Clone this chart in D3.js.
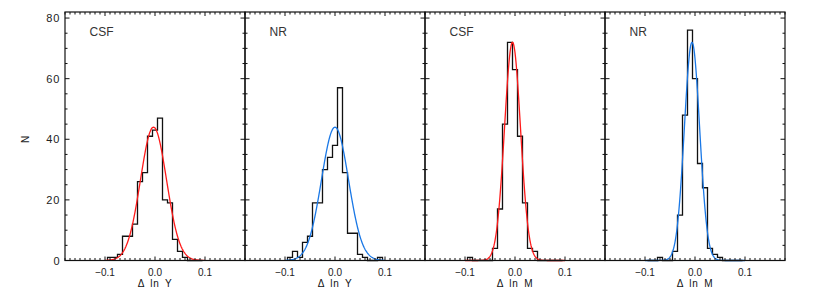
<!DOCTYPE html>
<html>
<head>
<meta charset="utf-8">
<script src="https://cdn.jsdelivr.net/npm/d3@7"></script>
<style>
  html, body { margin: 0; padding: 0; background: #fff; overflow: hidden; }
  svg { display: block; font-family: "Liberation Sans", Arial, Helvetica, sans-serif; }
</style>
</head>
<body>
<svg id="chart" width="817" height="297"></svg>
<script>
// ---- data ----
const binCenters = [-0.09, -0.08, -0.07, -0.06, -0.05, -0.04, -0.03, -0.02, -0.01, 0.00,
                     0.01,  0.02,  0.03,  0.04,  0.05,  0.06,  0.07,  0.08,  0.09];
const countsCsfY = [1, 1, 2, 8, 8, 12, 26, 29, 41, 43, 47, 20, 19, 7, 3, 1, 0, 0, 0];
const countsNrY  = [1, 3, 1, 6, 8, 19, 19, 30, 34, 38, 57, 29, 9, 9, 2, 1, 0, 0, 1];
const countsCsfM = [1, 0, 0, 0, 0, 4, 17, 45, 72, 63, 41, 19, 4, 3, 0, 0, 0, 0, 0];
const countsNrM  = [0, 0, 1, 0, 0, 3, 15, 48, 76, 60, 32, 24, 4, 2, 1, 0, 0, 0, 0];
const panelLabels = ["CSF", "NR", "CSF", "NR"];
const xTitles = ["\u0394 ln Y", "\u0394 ln Y", "\u0394 ln M", "\u0394 ln M"];
// Gaussian fit parameters: amplitude, mean, sigma
const fitAmp   = [44, 44, 72, 72];
const fitMean  = [-0.003, 0.000, -0.005, -0.006];
const fitSigma = [0.026, 0.027, 0.016, 0.0153];
const fitColors = ["#ff1a1a", "#1a78e6", "#ff1a1a", "#1a78e6"];
const xTickValues = [-0.1, 0.0, 0.1];
const xTickLabels = ["\u22120.1", "0.0", "0.1"];
const yTickValues = [0, 20, 40, 60, 80];
const yTickLabels = ["0", "20", "40", "60", "80"];
const yAxisTitle = "N";

const allCounts = [countsCsfY, countsNrY, countsCsfM, countsNrM];

// ---- layout ----
const svg = d3.select("#chart");
const left0 = 65, panelW = 180, plotTop = 12, plotBottom = 260.5;
const binW = 0.01;
const x = d3.scaleLinear().domain([-0.18, 0.18]).range([0, panelW]);
const y = d3.scaleLinear().domain([0, 82]).range([plotBottom, plotTop]);
const textColor = "#222";

allCounts.forEach((counts, i) => {
  const g = svg.append("g").attr("transform", `translate(${left0 + i * panelW},0)`);

  // histogram step outline
  const pts = [[binCenters[0] - binW / 2, 0]];
  counts.forEach((c, k) => {
    pts.push([binCenters[k] - binW / 2, c]);
    pts.push([binCenters[k] + binW / 2, c]);
  });
  pts.push([binCenters[binCenters.length - 1] + binW / 2, 0]);
  g.append("path")
    .attr("d", d3.line().x(d => x(d[0])).y(d => y(d[1]))(pts))
    .attr("fill", "none").attr("stroke", "#111").attr("stroke-width", 1.3);

  // gaussian fit
  const xs = d3.range(-0.1, 0.1 + 1e-9, 0.001);
  const curve = xs.map(v => [v, fitAmp[i] * Math.exp(-0.5 * Math.pow((v - fitMean[i]) / fitSigma[i], 2))]);
  g.append("path")
    .attr("d", d3.line().x(d => x(d[0])).y(d => y(d[1]))(curve))
    .attr("fill", "none").attr("stroke", fitColors[i]).attr("stroke-width", 1.3);

  // frame
  g.append("rect").attr("x", 0).attr("y", plotTop).attr("width", panelW).attr("height", plotBottom - plotTop)
    .attr("fill", "none").attr("stroke", "#111").attr("stroke-width", 1.2);

  // x ticks (bottom and top, inward)
  const xMinor = d3.range(-18, 19).map(k => k / 100);
  xMinor.forEach(v => {
    const major = xTickValues.some(t => Math.abs(t - v) < 1e-9);
    const len = major ? 4 : 2.5;
    g.append("line").attr("x1", x(v)).attr("x2", x(v)).attr("y1", plotBottom).attr("y2", plotBottom - len)
      .attr("stroke", "#111").attr("stroke-width", 1);
    g.append("line").attr("x1", x(v)).attr("x2", x(v)).attr("y1", plotTop).attr("y2", plotTop + len)
      .attr("stroke", "#111").attr("stroke-width", 1);
  });
  // y ticks (left and right, inward)
  d3.range(0, 81, 5).forEach(v => {
    const major = v % 20 === 0;
    const len = major ? 4.5 : 2.5;
    g.append("line").attr("x1", 0).attr("x2", len).attr("y1", y(v)).attr("y2", y(v))
      .attr("stroke", "#111").attr("stroke-width", 1);
    g.append("line").attr("x1", panelW).attr("x2", panelW - len).attr("y1", y(v)).attr("y2", y(v))
      .attr("stroke", "#111").attr("stroke-width", 1);
  });

  // x tick labels
  xTickValues.forEach((v, k) => {
    g.append("text").attr("x", x(v)).attr("y", 276).attr("text-anchor", "middle")
      .attr("font-size", 10).attr("fill", textColor).text(xTickLabels[k]);
  });
  // x title
  g.append("text").attr("x", x(0)).attr("y", 287).attr("text-anchor", "middle")
    .attr("font-size", 10).attr("letter-spacing", 0.7).attr("word-spacing", 2.2)
    .attr("fill", "#111").text(xTitles[i]);
  // panel label
  g.append("text").attr("x", 24.5).attr("y", 35.5)
    .attr("font-size", 12).attr("fill", "#333").text(panelLabels[i]);

  if (i === 0) {
    yTickValues.forEach((v, k) => {
      g.append("text").attr("x", -4.5).attr("y", y(v) + 4).attr("text-anchor", "end")
        .attr("font-size", 11).attr("letter-spacing", 1).attr("fill", textColor).text(yTickLabels[k]);
    });
    g.append("text").attr("transform", `translate(-36,${y(40)}) rotate(-90)`)
      .attr("text-anchor", "middle").attr("font-size", 10).attr("fill", textColor).text(yAxisTitle);
  }
});
</script>
</body>
</html>
